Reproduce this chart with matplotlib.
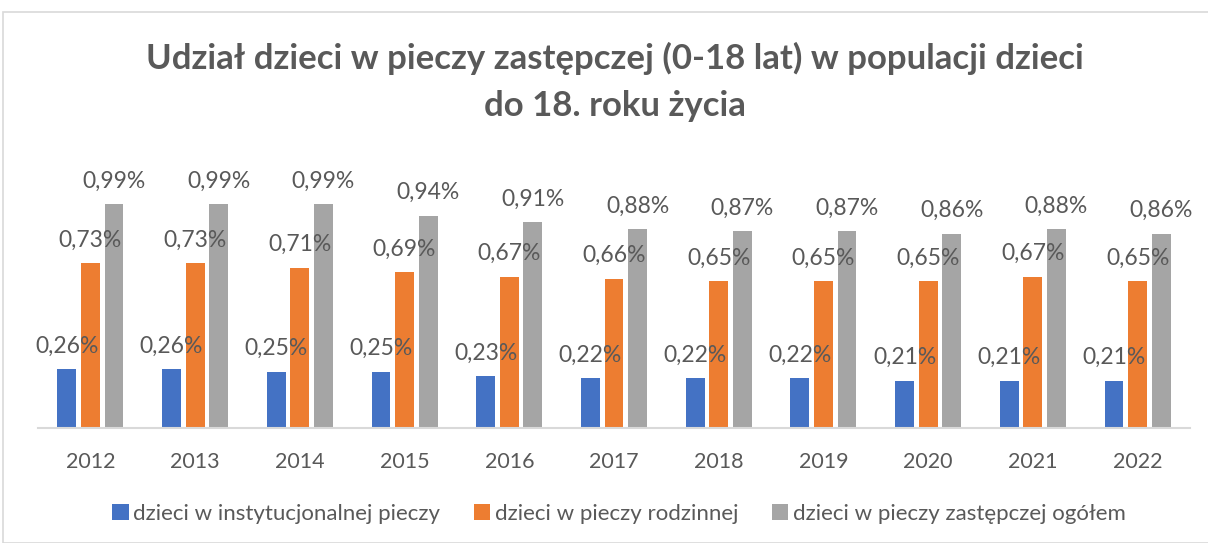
import matplotlib
matplotlib.use("Agg")
import matplotlib.pyplot as plt
from matplotlib.patches import Rectangle
import numpy as np

years = ["2012", "2013", "2014", "2015", "2016", "2017", "2018", "2019", "2020", "2021", "2022"]
instytucjonalna = [0.26, 0.26, 0.25, 0.25, 0.23, 0.22, 0.22, 0.22, 0.21, 0.21, 0.21]
rodzinna = [0.73, 0.73, 0.71, 0.69, 0.67, 0.66, 0.65, 0.65, 0.65, 0.67, 0.65]
ogolem = [0.99, 0.99, 0.99, 0.94, 0.91, 0.88, 0.87, 0.87, 0.86, 0.88, 0.86]
series_names = ["dzieci w instytucjonalnej pieczy", "dzieci w pieczy rodzinnej",
                "dzieci w pieczy zastępczej ogółem"]
colors = ["#4472C4", "#ED7D31", "#A5A5A5"]
title = "Udział dzieci w pieczy zastępczej (0-18 lat) w populacji dzieci\ndo 18. roku życia"

TXT = "#595959"
FONT = ["Lato", "DejaVu Sans"]
plt.rcParams["font.family"] = FONT

W, H = 1208, 543
fig = plt.figure(figsize=(W / 100, H / 100), dpi=100)

# chart border
fig.patches.append(Rectangle((3 / W, 0), 1.2, 1 - 12 / H, transform=fig.transFigure,
                             fill=False, edgecolor="#D9D9D9", linewidth=1.2))

left, right = 38, 1190
bottom_px, top_px = 428, 179.4
ax = fig.add_axes([left / W, 1 - bottom_px / H, (right - left) / W, (bottom_px - top_px) / H])
ax.set_xlim(-0.5, len(years) - 0.5)
ax.set_ylim(0, 1.1)

x = np.arange(len(years))
bw = 0.18
pitch = 0.225
for i, (vals, c, name) in enumerate(zip([instytucjonalna, rodzinna, ogolem], colors, series_names)):
    xs = x + (i - 1) * pitch
    ax.bar(xs, vals, width=bw, color=c, label=name, zorder=2)
    for xi, v in zip(xs, vals):
        ax.annotate(f"{v:.2f}%".replace(".", ","), (xi, v), xytext=(0, 12),
                    textcoords="offset points", ha="center", va="baseline",
                    fontsize=16.5, color=TXT)

for s in ["top", "right", "left"]:
    ax.spines[s].set_visible(False)
ax.spines["bottom"].set_color("#D9D9D9")
ax.spines["bottom"].set_linewidth(1.5)
ax.set_yticks([])
ax.set_xticks(x)
ax.set_xticklabels(years, fontsize=15.5, color=TXT)
ax.tick_params(axis="x", length=0, pad=17)

fig.text(0.509, 1 - 82 / H, title, ha="center", va="center", fontsize=25, fontweight="bold",
         color=TXT, linespacing=1.6)

handles, labels = ax.get_legend_handles_labels()
fig.legend(handles, labels, loc="center", bbox_to_anchor=(619 / W, 1 - 514 / H), ncol=3,
           frameon=False, fontsize=16, labelcolor=TXT, handlelength=0.75, handleheight=0.75,
           handletextpad=0.2, columnspacing=1.5)

fig.savefig("out.png", dpi=100)
